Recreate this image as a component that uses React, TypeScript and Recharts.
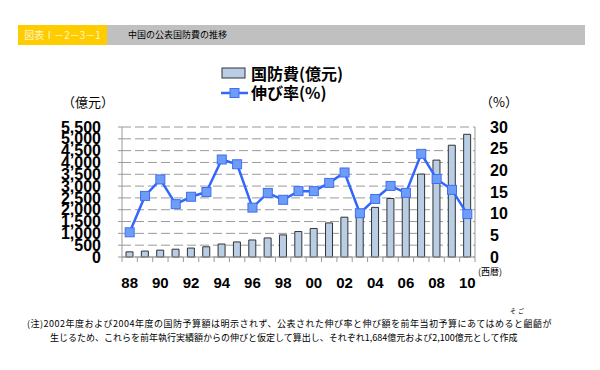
import React from "react";
import {
  Bar,
  CartesianGrid,
  ComposedChart,
  Line,
  XAxis,
  YAxis,
} from "recharts";

const years = [
  "88", "89", "90", "91", "92", "93", "94", "95", "96", "97", "98", "99",
  "00", "01", "02", "03", "04", "05", "06", "07", "08", "09", "10",
];

// 国防費(億元)
const budget = [
  218, 251, 290, 330, 378, 432, 550, 637, 720, 806, 935, 1077,
  1207, 1442, 1684, 1853, 2100, 2475, 2838, 3509, 4099, 4729, 5191,
];

// 伸び率(%)
const growth = [
  5.7, 14.1, 17.9, 12.2, 13.9, 15.0, 22.5, 21.4, 11.4, 14.8, 13.2, 15.2,
  15.2, 17.1, 19.5, 10.1, 13.4, 16.4, 14.8, 23.8, 18.0, 15.5, 9.9,
];

const leftTicks = [0, 500, 1000, 1500, 2000, 2500, 3000, 3500, 4000, 4500, 5000, 5500];
const rightTicks = [0, 5, 10, 15, 20, 25, 30];

const data = years.map((y, i) => ({ year: y, budget: budget[i], growth: growth[i] }));

const JP = '"Noto Sans CJK JP", sans-serif';
const NUM = '"Liberation Sans", Arial, sans-serif';
const PLOT_W = 353;
const STEP = PLOT_W / years.length;

const numTick = { fontFamily: NUM, fontWeight: 700, fontSize: 16, fill: "#000" };

const XTick = (props: any) => {
  const { x, y, index } = props;
  const half = STEP / 2;
  return (
    <g>
      <line x1={x - half} x2={x - half} y1={y} y2={y + 5} stroke="#999" />
      {index === years.length - 1 && (
        <line x1={x + half} x2={x + half} y1={y} y2={y + 5} stroke="#999" />
      )}
      {index % 2 === 0 && (
        <text x={x} y={y + 31} textAnchor="middle" {...numTick} fontSize={15}>
          {props.payload.value}
        </text>
      )}
    </g>
  );
};

const Square = (props: any) => {
  const { cx, cy } = props;
  if (cx == null || cy == null) return null;
  return (
    <rect x={cx - 4.5} y={cy - 4.5} width={9} height={9} fill="#6E9DF7" stroke="#3F6FF0" strokeWidth={1} />
  );
};

export default function App() {
  return (
    <div style={{ position: "absolute", left: 0, top: 0, width: 600, height: 370, background: "#fff", fontFamily: JP }}>
      {/* header */}
      <div style={{ position: "absolute", left: 18, top: 25, width: 89, height: 20, background: "#FFCC00", color: "#FFF6D0", fontSize: 10, lineHeight: "20px", textAlign: "center" }}>
        図表Ⅰ－2－3－1
      </div>
      <div style={{ position: "absolute", left: 107, top: 25, width: 478, height: 20, background: "#C0C0C0", color: "#000", fontSize: 9, lineHeight: "20px", paddingLeft: 21, boxSizing: "border-box" }}>
        中国の公表国防費の推移
      </div>

      {/* legend */}
      <div style={{ position: "absolute", left: 221, top: 64, fontWeight: 700, fontSize: 16, color: "#000", lineHeight: "19px" }}>
        <div style={{ display: "flex", alignItems: "center" }}>
          <svg width={30} height={19}>
            <rect x={1} y={4} width={23} height={10} fill="#B9CDE5" stroke="#333" />
          </svg>
          <span>国防費(億元)</span>
        </div>
        <div style={{ display: "flex", alignItems: "center" }}>
          <svg width={30} height={19}>
            <line x1={0} x2={27} y1={10} y2={10} stroke="#3366FF" strokeWidth={2.5} />
            <rect x={9} y={5.5} width={9} height={9} fill="#6E9DF7" stroke="#3F6FF0" />
          </svg>
          <span>伸び率(%)</span>
        </div>
      </div>

      <div style={{ position: "absolute", left: 62, top: 92, fontSize: 13, color: "#000" }}>（億元）</div>
      <div style={{ position: "absolute", left: 480, top: 92, fontSize: 13, color: "#000" }}>（%）</div>
      <div style={{ position: "absolute", left: 478, top: 265, fontSize: 9, color: "#000" }}>(西暦)</div>

      <div style={{ position: "absolute", left: 0, top: 0 }}>
        <ComposedChart
          width={600}
          height={370}
          data={data}
          margin={{ top: 127, right: 45, bottom: 83, left: 22 }}
        >
          <CartesianGrid yAxisId="left" vertical={false} stroke="#9A9A9A" strokeDasharray="9 4" />
          <XAxis
            dataKey="year"
            interval={0}
            tickLine={false}
            tickSize={0}
            tickMargin={0}
            height={30}
            axisLine={{ stroke: "#999" }}
            tick={<XTick />}
          />
          <YAxis
            yAxisId="left"
            width={100}
            domain={[0, 5500]}
            ticks={leftTicks}
            interval={0}
            tickFormatter={(v: number) => v.toLocaleString("en-US")}
            axisLine={{ stroke: "#999" }}
            tickLine={{ stroke: "#999" }}
            tickSize={4}
            tickMargin={17}
            tick={numTick}
          />
          <YAxis
            yAxisId="right"
            orientation="right"
            width={80}
            domain={[0, 30]}
            ticks={rightTicks}
            interval={0}
            axisLine={{ stroke: "#999" }}
            tickLine={false}
            tickSize={0}
            tickMargin={15}
            tick={numTick}
          />
          <Bar
            yAxisId="left"
            dataKey="budget"
            barSize={7}
            fill="#B9CDE5"
            stroke="#333"
            strokeWidth={1}
            isAnimationActive={false}
          />
          <Line
            yAxisId="right"
            dataKey="growth"
            type="linear"
            stroke="#3366FF"
            strokeWidth={2.5}
            dot={<Square />}
            activeDot={false}
            isAnimationActive={false}
          />
        </ComposedChart>
      </div>

      {/* note */}
      <div style={{ position: "absolute", left: 510, top: 306, fontSize: 6, color: "#000", letterSpacing: 2 }}>そご</div>
      <div style={{ position: "absolute", left: 27, top: 317, fontSize: 9, color: "#000", lineHeight: "14px", whiteSpace: "nowrap" }}>
        <div style={{ letterSpacing: 0.5 }}>(注)2002年度および2004年度の国防予算額は明示されず、公表された伸び率と伸び額を前年当初予算にあてはめると齟齬が</div>
        <div style={{ paddingLeft: 23 }}>生じるため、これらを前年執行実績額からの伸びと仮定して算出し、それぞれ1,684億元および2,100億元として作成</div>
      </div>
    </div>
  );
}
